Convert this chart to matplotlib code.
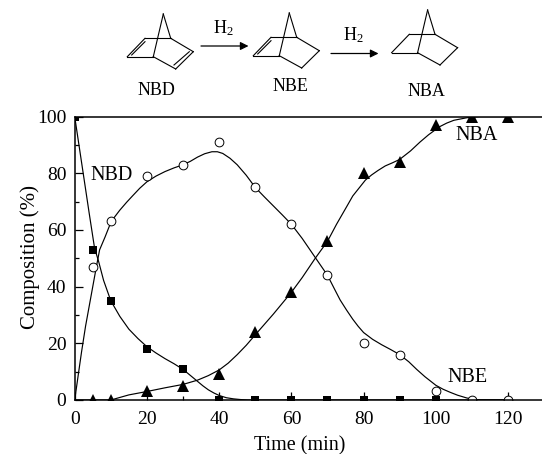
import matplotlib
matplotlib.use('Agg')
import matplotlib.pyplot as plt
from matplotlib.ticker import MultipleLocator

plt.rcParams['font.family'] = ['Liberation Serif', 'DejaVu Serif']
plt.rcParams['mathtext.default'] = 'regular'
plt.rcParams['mathtext.fontset'] = 'custom'
plt.rcParams['mathtext.rm'] = 'Liberation Serif'

# measured points
nbd_t = [5, 10, 20, 30, 40, 50, 60, 70, 80, 90, 100, 110, 120]
nbd_y = [47, 63, 79, 83, 91, 75, 62, 44, 20, 16, 3, 0, 0]
nbe_t = [0, 5, 10, 20, 30, 40, 50, 60, 70, 80, 90, 100]
nbe_y = [100, 53, 35, 18, 11, 0, 0, 0, 0, 0, 0, 0]
nba_t = [5, 10, 20, 30, 40, 50, 60, 70, 80, 90, 100, 110, 120]
nba_y = [0, 0, 3, 5, 9, 24, 38, 56, 80, 84, 97, 100, 100]

# fitted curves
nbd_curve_t = [0, 1, 1.9, 3, 4, 5, 6, 6.9, 8.4, 9.8, 11, 12.5, 14.4, 16, 18, 20, 22.5, 25, 27.5, 30, 32, 34, 36, 38, 39.5,
               41, 43, 45, 47.5, 50, 52.5, 55, 57.5, 60, 63, 66.6, 70, 72, 73.5, 75.3, 77, 78.5, 80, 82.5, 85, 87.5, 90,
               92.5, 94.7, 97, 100, 102, 104, 106, 108.6, 111, 120]
nbd_curve_y = [0, 9, 17, 26, 33, 40, 47, 53, 57.5, 62, 64.5, 67, 69.8, 72, 74.7, 77, 79, 80.6, 81.9, 83, 84.2, 85.7, 86.9, 87.6, 87.6,
               87, 85.3, 83, 79.3, 75, 71.7, 68.5, 65.3, 62, 57, 50.3, 44, 39, 35.3, 31.7, 28.5, 26, 23.8, 21.4, 19.5, 17.8, 16,
               13.5, 10.8, 8.2, 5.2, 3.8, 2.7, 1.7, 0.7, 0.1, 0]
nbe_curve_t = [0, 2, 4, 5.5, 6.6, 8, 10, 12.5, 15, 17.5, 20, 22.5, 25, 27.5, 30, 32, 33.8, 35.5, 37, 38.5, 40, 42, 44, 46, 48, 52, 120]
nbe_curve_y = [100, 83, 66, 53.6, 49, 42.2, 35, 29.5, 25, 21.7, 18.8, 16.6, 14.6, 12.8, 10.8, 8.7, 6.8, 5, 3.6, 2.5, 1.6, 0.8, 0.4, 0.15, 0, 0, 0]
nba_curve_t = [0, 10, 12.5, 15, 20, 25, 30, 34, 37, 40, 42.5, 45, 47.5, 50, 55, 60, 63, 66.6, 70, 72.5, 75.3, 77, 79, 80.5, 82.2,
               84, 86, 88, 90, 93, 95.6, 98, 101, 103, 105, 108.6, 112, 120]
nba_curve_y = [0, 0, 0.9, 1.8, 3, 4.3, 5.5, 7, 8.6, 10.6, 13, 16, 19.3, 23, 30.3, 38, 43.2, 50, 56, 62, 68.2, 72, 75.2, 77.6, 79.4,
               81, 82.6, 83.7, 84.9, 87.9, 91, 93.6, 96.4, 97.7, 98.7, 99.6, 100, 100]

x_ticks = [0, 20, 40, 60, 80, 100, 120]
y_ticks = [0, 20, 40, 60, 80, 100]

# norbornane skeleton, picture pixels
ring = [(163.3, 14.0), (153.3, 56.7), (170.7, 38.3), (193.3, 51.7), (175.7, 69.0), (127.3, 56.7), (145.0, 38.3)]
bonds = [(0, 1), (0, 2), (2, 3), (3, 4), (4, 1), (1, 5), (5, 6), (6, 2)]
left_double = ((131.7, 55.0), (145.0, 41.7))
right_double = ((174.0, 65.0), (189.3, 51.7))
molecules = [(0, 0, [left_double, right_double]), (126, -1, [left_double]), (264.3, -4, [])]


fig = plt.figure(figsize=(5.42, 4.54), dpi=100)
ax = fig.add_axes([74.7 / 542, 54 / 454, 467.3 / 542, 283.4 / 454])

for cx, cy in [(nbd_curve_t, nbd_curve_y), (nbe_curve_t, nbe_curve_y), (nba_curve_t, nba_curve_y)]:
    ax.plot(cx, cy, color='black', lw=0.85, solid_joinstyle='round')
ax.plot(nbe_t, nbe_y, ls='none', marker='s', ms=5.5, color='black', mew=0)
ax.plot(nba_t, nba_y, ls='none', marker='^', ms=8, color='black', mew=0)
ax.plot(nbd_t, nbd_y, ls='none', marker='o', ms=6.3, mfc='white', mec='black', mew=0.7)

ax.set_xlim(0, 129.4)
ax.set_ylim(0, 100)
ax.set_xticks(x_ticks)
ax.set_yticks(y_ticks)
ax.xaxis.set_minor_locator(MultipleLocator(10))
ax.yaxis.set_minor_locator(MultipleLocator(10))
ax.tick_params(which='major', direction='in', length=6, width=0.9, labelsize=14)
ax.tick_params(which='minor', direction='in', length=3, width=0.9)
ax.tick_params(axis='x', which='major', pad=8)
ax.tick_params(axis='y', which='major', pad=6)
ax.spines['right'].set_visible(False)
for s in ['left', 'bottom', 'top']:
    ax.spines[s].set_linewidth(1.1)
ax.set_xlabel('Time (min)', fontsize=14.5)
ax.set_ylabel('Composition (%)', fontsize=15)
ax.xaxis.set_label_coords((300 - 74.7) / 467.3, -0.128)
ax.yaxis.set_label_coords(-0.075, 0.504)

# overlay in pixels for the scheme and the curve labels
ov = fig.add_axes([0, 0, 1, 1], facecolor='none')
ov.set_xlim(0, 542)
ov.set_ylim(454, 0)
ov.axis('off')

for dx, dy, doubles in molecules:
    for a, b in bonds:
        ov.plot([ring[a][0] + dx, ring[b][0] + dx], [ring[a][1] + dy, ring[b][1] + dy], color='black', lw=0.8)
    for p, q in doubles:
        ov.plot([p[0] + dx, q[0] + dx], [p[1] + dy, q[1] + dy], color='black', lw=0.8)

for x0, x1, y in [(201, 248.5, 46), (331, 378.5, 53.5)]:
    ov.annotate('', xy=(x1, y), xytext=(x0, y),
                arrowprops=dict(arrowstyle='-|>', color='black', lw=0.9, mutation_scale=12, shrinkA=0, shrinkB=0))
ov.text(223, 28, 'H$_2$', fontsize=13, ha='center', va='center')
ov.text(353, 35, 'H$_2$', fontsize=13, ha='center', va='center')

ov.text(156.5, 90.5, 'NBD', fontsize=13, ha='center', va='center')
ov.text(290, 86.5, 'NBE', fontsize=13, ha='center', va='center')
ov.text(426, 92, 'NBA', fontsize=13, ha='center', va='center')

ov.text(112, 176, 'NBD', fontsize=14.5, ha='center', va='center')
ov.text(477, 135, 'NBA', fontsize=14.5, ha='center', va='center')
ov.text(467, 377.5, 'NBE', fontsize=14.5, ha='center', va='center')

fig.savefig('out.png', dpi=100)
